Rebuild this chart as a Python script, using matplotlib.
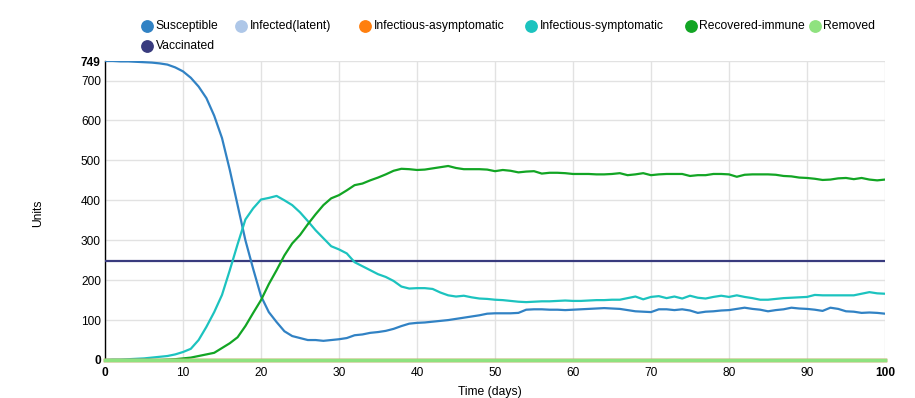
import matplotlib
matplotlib.use("Agg")
import matplotlib.pyplot as plt
from matplotlib.lines import Line2D

plt.rcParams['font.family'] = ['Liberation Sans', 'DejaVu Sans']

days = list(range(101))

susceptible = [749, 749, 748, 748, 747, 746, 745, 743, 740, 733,
               723, 707, 685, 656, 612, 556, 476, 388, 300, 228,
               160, 120, 95, 72, 60, 55, 50, 50, 48, 50,
               52, 55, 62, 64, 68, 70, 73, 78, 85, 91,
               93, 94, 96, 98, 100, 103, 106, 109, 112, 116,
               117, 117, 117, 118, 126, 127, 127, 126, 126, 125,
               126, 127, 128, 129, 130, 129, 128, 125, 122, 121,
               120, 127, 127, 125, 127, 124, 118, 121, 122, 124,
               125, 128, 131, 128, 126, 122, 125, 127, 131, 129,
               128, 126, 123, 131, 128, 122, 121, 118, 119, 118, 116]

symptomatic = [0, 1, 1, 2, 3, 4, 6, 8, 10, 14,
               20, 28, 50, 83, 120, 163, 225, 290, 352, 380,
               402, 406, 411, 400, 388, 370, 348, 325, 305, 285,
               277, 267, 245, 235, 225, 215, 208, 198, 184, 179,
               180, 180, 178, 169, 162, 159, 161, 157, 154, 153,
               151, 150, 148, 146, 145, 146, 147, 147, 148, 149,
               148, 148, 149, 150, 150, 151, 151, 155, 159, 152,
               158, 160, 155, 159, 154, 161, 156, 154, 158, 161,
               158, 162, 158, 155, 151, 151, 153, 155, 156, 157,
               158, 163, 162, 162, 162, 162, 162, 166, 170, 167, 166]

recovered = [0, 0, 0, 0, 0, 0, 0, 0, 1, 2,
             4, 6, 10, 14, 18, 30, 42, 57, 85, 118,
             150, 190, 225, 262, 292, 313, 340, 365, 388, 405,
             413, 425, 438, 442, 450, 457, 465, 474, 479, 478,
             476, 477, 480, 483, 486, 481, 478, 478, 478, 477,
             473, 476, 474, 470, 472, 473, 467, 469, 469, 468,
             466, 466, 466, 465, 465, 466, 468, 463, 465, 468,
             463, 465, 466, 466, 466, 461, 463, 463, 466, 466,
             465, 459, 464, 465, 465, 465, 464, 461, 460, 457,
             456, 454, 451, 452, 455, 456, 453, 456, 452, 450, 452]

flat_days = [0, 100]
latent = [0, 0]
asymptomatic = [0, 0]
removed = [0, 0]
vaccinated = [249, 249]

labels = ["Susceptible", "Infected(latent)", "Infectious-asymptomatic",
          "Infectious-symptomatic", "Recovered-immune", "Removed", "Vaccinated"]
colors = ["#3182c4", "#aec7e8", "#ff7f0e", "#1cc3bf", "#12a524", "#8fe27f", "#393b7e"]

fig = plt.figure(figsize=(9.15, 3.98), dpi=100)
ax = fig.add_axes([105/915, 38/398, 780/915, 299/398])

ax.plot(flat_days, vaccinated, color=colors[6], lw=1.6, zorder=3)
ax.plot(days, susceptible, color=colors[0], lw=1.6, zorder=3)
ax.plot(days, symptomatic, color=colors[3], lw=1.6, zorder=3)
ax.plot(days, recovered, color=colors[4], lw=1.6, zorder=3)
ax.plot(flat_days, latent, color=colors[1], lw=2.5, zorder=3, clip_on=False)
ax.plot(flat_days, asymptomatic, color=colors[2], lw=2.5, zorder=3, clip_on=False)
ax.plot(flat_days, removed, color=colors[5], lw=2.5, zorder=4, clip_on=False)

ax.set_xlim(0, 100)
ax.set_ylim(0, 749)
yt = [0, 100, 200, 300, 400, 500, 600, 700, 749]
ax.set_yticks(yt)
ax.set_yticklabels([str(v) for v in yt])
xt = list(range(0, 101, 10))
ax.set_xticks(xt)
ax.set_xticklabels([str(v) for v in xt])
ax.grid(True, color="#e2e2e2", lw=1)
ax.set_axisbelow(True)
for s in ["top", "right"]:
    ax.spines[s].set_visible(False)
for s in ["left", "bottom"]:
    ax.spines[s].set_color("black")
    ax.spines[s].set_linewidth(1.0)
ax.tick_params(axis="y", length=0, labelsize=8.6, pad=3)
ax.tick_params(axis="x", length=0, labelsize=8.6, pad=5)
for lbl in ax.get_yticklabels():
    if lbl.get_text() in ("0", "749"):
        lbl.set_fontweight("bold")
for lbl in ax.get_xticklabels():
    if lbl.get_text() in ("0", "100"):
        lbl.set_fontweight("bold")

fig.text(38/915, 1 - 213/398, "Units", rotation=90, ha="center", va="center", fontsize=8.7)
fig.text(490/915, 1 - 392/398, "Time (days)", ha="center", va="center", fontsize=8.7)

# legend
leg_pos = [(147, 25.7), (241, 25.7), (365, 25.7), (531, 25.7), (691, 25.7), (815, 25.7), (147, 45.7)]
for (px, py), lab, col in zip(leg_pos, labels, colors):
    fig.add_artist(Line2D([px/915], [1 - py/398], marker="o", markersize=8.2,
                          color=col, markeredgecolor=col, transform=fig.transFigure))
    fig.text((px + 8.5)/915, 1 - py/398, lab, ha="left", va="center", fontsize=8.7)

fig.savefig("out.png", dpi=100)
